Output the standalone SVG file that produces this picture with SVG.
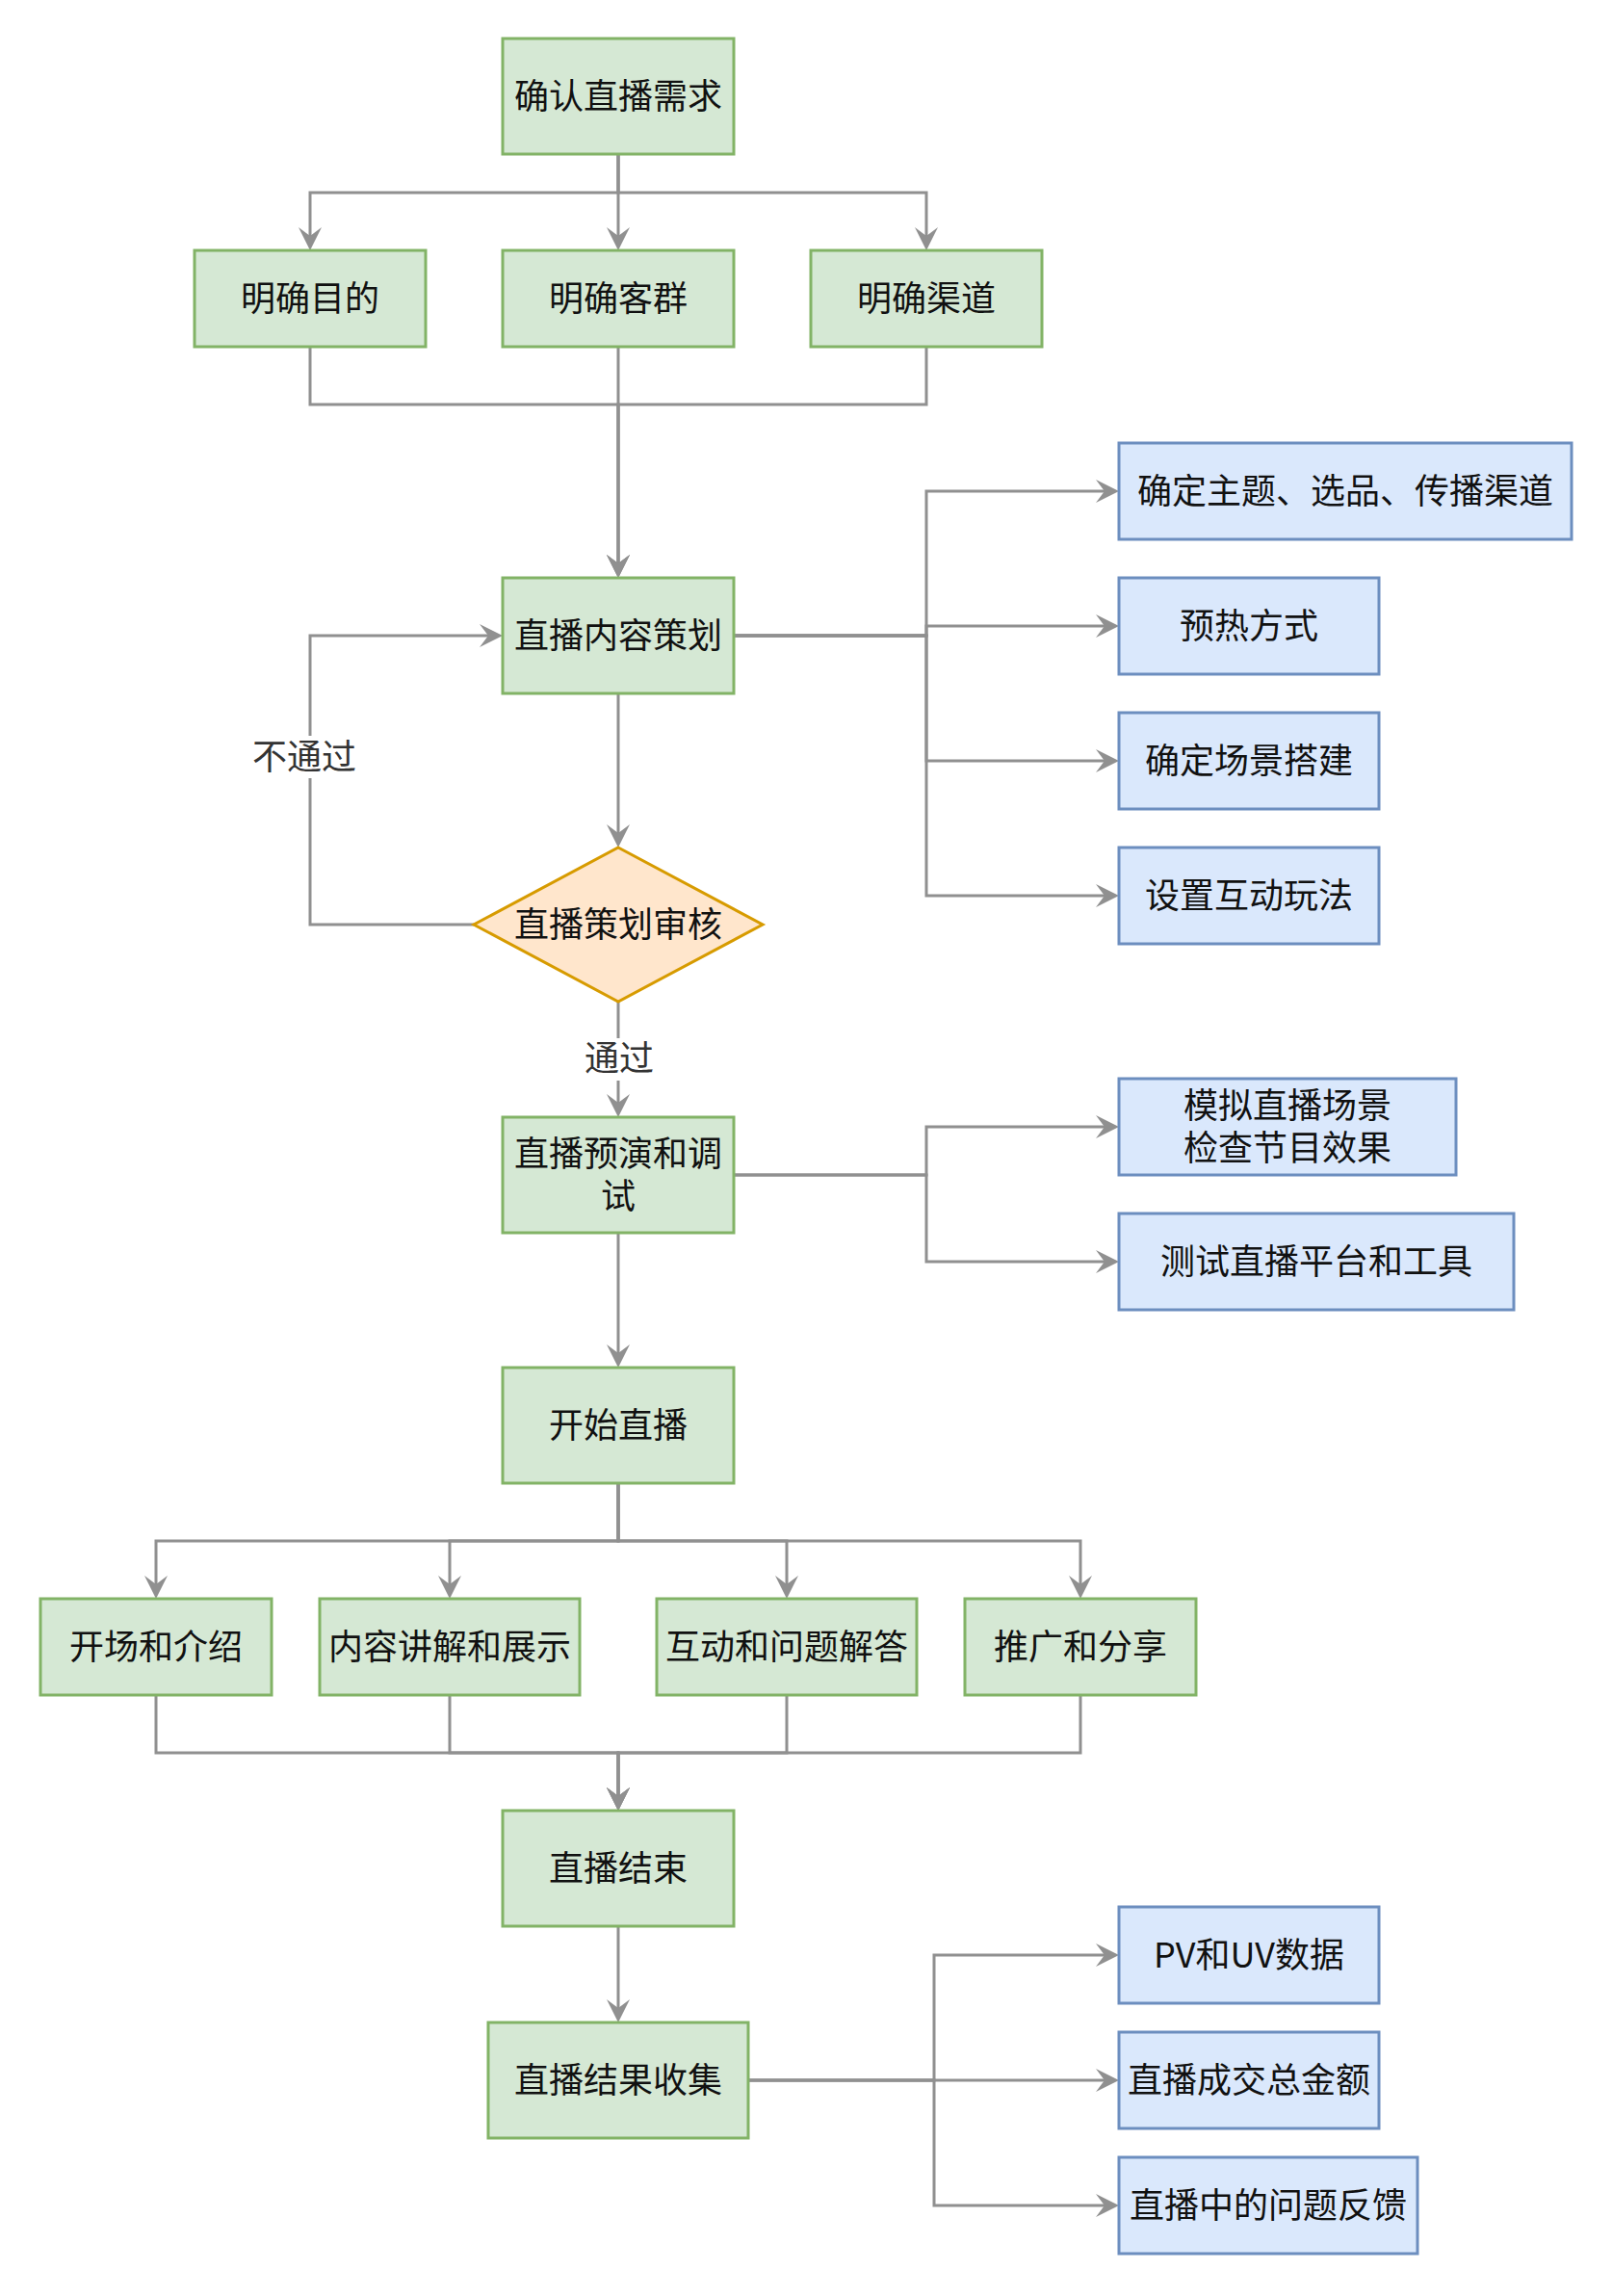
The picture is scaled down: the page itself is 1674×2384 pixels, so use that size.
<svg xmlns="http://www.w3.org/2000/svg" width="1674" height="2384" viewBox="0 0 1674 2384">
<style>
.g{fill:#d5e8d4;stroke:#82b366;stroke-width:3}
.b{fill:#dae8fc;stroke:#6c8ebf;stroke-width:3}
.o{fill:#ffe6cc;stroke:#d79b00;stroke-width:3}
.t{font-family:"Noto Sans CJK SC","Noto Sans",sans-serif;font-size:36px;fill:#111;text-anchor:middle}
.l{font-family:"Noto Sans CJK SC","Noto Sans",sans-serif;font-size:36px;fill:#333;text-anchor:middle}
.c path{fill:none;stroke:#909090;stroke-width:3}
.c path.a{marker-end:url(#arr)}
</style>
<defs>
<marker id="arr" markerUnits="userSpaceOnUse" viewBox="0 0 24 24" markerWidth="24" markerHeight="24" refX="9" refY="12" orient="auto">
<path d="M0,0 L24,12 L0,24 L9,12 Z" fill="#909090"/>
</marker>
</defs>
<rect width="1674" height="2384" fill="#ffffff"/>
<g class="c" id="connectors">
<path class="a" d="M642,160 V200 H322 V245"/>
<path class="a" d="M642,160 V245"/>
<path class="a" d="M642,160 V200 H962 V245"/>
<path class="a" d="M322,360 V420 H642 V585"/>
<path class="a" d="M642,360 V585"/>
<path class="a" d="M962,360 V420 H642 V585"/>
<path class="a" d="M762,660 H962 V510 H1147"/>
<path class="a" d="M762,660 H962 V650 H1147"/>
<path class="a" d="M762,660 H962 V790 H1147"/>
<path class="a" d="M762,660 H962 V930 H1147"/>
<path class="a" d="M642,720 V865"/>
<path class="a" d="M492,960 H322 V660 H507"/>
<path class="a" d="M642,1040 V1145"/>
<path class="a" d="M762,1220 H962 V1170 H1147"/>
<path class="a" d="M762,1220 H962 V1310 H1147"/>
<path class="a" d="M642,1280 V1405"/>
<path class="a" d="M642,1540 V1600 H162 V1645"/>
<path class="a" d="M642,1540 V1600 H467 V1645"/>
<path class="a" d="M642,1540 V1600 H817 V1645"/>
<path class="a" d="M642,1540 V1600 H1122 V1645"/>
<path class="a" d="M162,1760 V1820 H642 V1865"/>
<path class="a" d="M467,1760 V1820 H642 V1865"/>
<path class="a" d="M817,1760 V1820 H642 V1865"/>
<path class="a" d="M1122,1760 V1820 H642 V1865"/>
<path class="a" d="M642,2000 V2085"/>
<path class="a" d="M777,2160 H970 V2030 H1147"/>
<path class="a" d="M777,2160 H1147"/>
<path class="a" d="M777,2160 H970 V2290 H1147"/>
<rect x="278" y="764" width="80" height="44" fill="#ffffff"/>
<text class="l" x="316" y="799">不通过</text>
<rect x="606" y="1078" width="74" height="44" fill="#ffffff"/>
<text class="l" x="643" y="1112">通过</text>
</g>
<g id="n1"><rect class="g" x="522" y="40" width="240" height="120"/><text class="t" x="642" y="113">确认直播需求</text></g>
<g id="n2"><rect class="g" x="202" y="260" width="240" height="100"/><text class="t" x="322" y="323">明确目的</text></g>
<g id="n3"><rect class="g" x="522" y="260" width="240" height="100"/><text class="t" x="642" y="323">明确客群</text></g>
<g id="n4"><rect class="g" x="842" y="260" width="240" height="100"/><text class="t" x="962" y="323">明确渠道</text></g>
<g id="n5"><rect class="g" x="522" y="600" width="240" height="120"/><text class="t" x="642" y="673">直播内容策划</text></g>
<g id="b1"><rect class="b" x="1162" y="460" width="470" height="100"/><text class="t" x="1397" y="523">确定主题、选品、传播渠道</text></g>
<g id="b2"><rect class="b" x="1162" y="600" width="270" height="100"/><text class="t" x="1297" y="663">预热方式</text></g>
<g id="b3"><rect class="b" x="1162" y="740" width="270" height="100"/><text class="t" x="1297" y="803">确定场景搭建</text></g>
<g id="b4"><rect class="b" x="1162" y="880" width="270" height="100"/><text class="t" x="1297" y="943">设置互动玩法</text></g>
<g id="d1"><polygon class="o" points="642,880 792,960 642,1040 492,960"/><text class="t" x="642" y="973">直播策划审核</text></g>
<g id="n6"><rect class="g" x="522" y="1160" width="240" height="120"/><text class="t" x="642" y="1211">直播预演和调<tspan x="642" dy="44">试</tspan></text></g>
<g id="b5"><rect class="b" x="1162" y="1120" width="350" height="100"/><text class="t" x="1337" y="1161">模拟直播场景<tspan x="1337" dy="44">检查节目效果</tspan></text></g>
<g id="b6"><rect class="b" x="1162" y="1260" width="410" height="100"/><text class="t" x="1367" y="1323">测试直播平台和工具</text></g>
<g id="n7"><rect class="g" x="522" y="1420" width="240" height="120"/><text class="t" x="642" y="1493">开始直播</text></g>
<g id="n8"><rect class="g" x="42" y="1660" width="240" height="100"/><text class="t" x="162" y="1723">开场和介绍</text></g>
<g id="n9"><rect class="g" x="332" y="1660" width="270" height="100"/><text class="t" x="467" y="1723">内容讲解和展示</text></g>
<g id="n10"><rect class="g" x="682" y="1660" width="270" height="100"/><text class="t" x="817" y="1723">互动和问题解答</text></g>
<g id="n11"><rect class="g" x="1002" y="1660" width="240" height="100"/><text class="t" x="1122" y="1723">推广和分享</text></g>
<g id="n12"><rect class="g" x="522" y="1880" width="240" height="120"/><text class="t" x="642" y="1953">直播结束</text></g>
<g id="n13"><rect class="g" x="507" y="2100" width="270" height="120"/><text class="t" x="642" y="2173">直播结果收集</text></g>
<g id="b7"><rect class="b" x="1162" y="1980" width="270" height="100"/><text class="t" x="1297" y="2043">PV和UV数据</text></g>
<g id="b8"><rect class="b" x="1162" y="2110" width="270" height="100"/><text class="t" x="1297" y="2173">直播成交总金额</text></g>
<g id="b9"><rect class="b" x="1162" y="2240" width="310" height="100"/><text class="t" x="1317" y="2303">直播中的问题反馈</text></g>
</svg>
